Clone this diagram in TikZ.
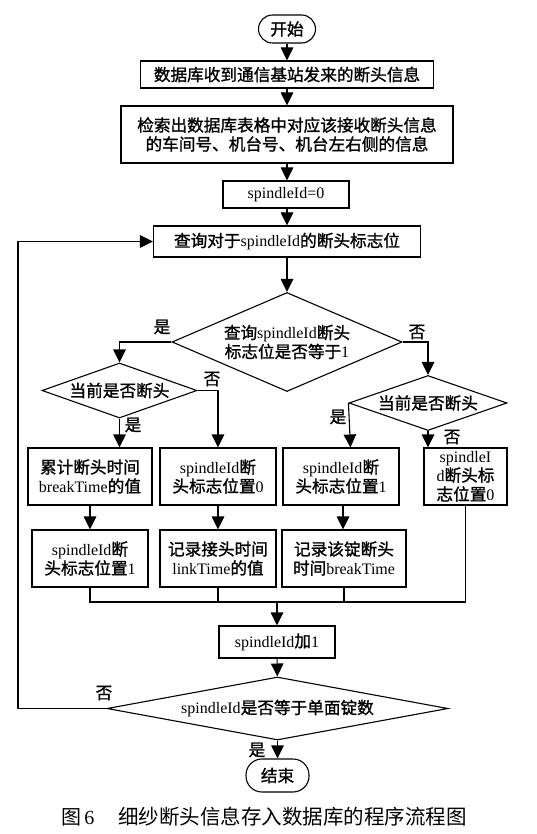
\documentclass[tikz,border=0pt]{standalone}
\usepackage{fontspec}
\setmainfont{Liberation Serif}
\newfontfamily\cjk{Noto Sans CJK SC}[Scale=1.04, FakeBold=1.2]
\newfontfamily\cjkcap{Noto Sans CJK SC}
\usetikzlibrary{arrows.meta,shapes.geometric}
\newcommand{\zhtext}[1]{{\cjk #1}}
\begin{document}
\begin{tikzpicture}[x=1pt,y=-1pt,
  line width=1.1pt,
  every node/.style={font=\fontsize{16}{19}\selectfont, align=center, inner sep=0pt},
  procbox/.style={draw, rectangle, line width=1.1pt},
  termbox/.style={draw, rectangle, rounded corners=14pt, line width=1.1pt},
  decbox/.style={draw, diamond, line width=1.1pt},
  lab/.style={font=\fontsize{16}{19}\selectfont},
  arr/.style={-{Triangle[length=13pt,width=12.5pt]}}
]
\path[use as bounding box, fill=white] (0,0) rectangle (537,834);

\node[termbox, minimum width=57pt, minimum height=28pt] (start) at (287,29) {\zhtext{开始}};
\node[procbox, minimum width=293pt, minimum height=27pt] (b1) at (287,74.5) {\zhtext{数据库收到通信基站发来的断头信息}};
\node[procbox, minimum width=332pt, minimum height=57pt] (b2) at (287,134.5) {\zhtext{检索出数据库表格中对应该接收断头信息}\\\zhtext{的车间号、机台号、机台左右侧的信息}};
\node[procbox, minimum width=126pt, minimum height=27pt] (b3) at (286,194.5) {spindleId=0};
\node[procbox, minimum width=267pt, minimum height=31pt] (b4) at (287,241.5) {\zhtext{查询对于}spindleId\zhtext{的断头标志位}};

\node[decbox, aspect=2.3, minimum width=230pt, minimum height=99pt] (d1) at (287,342) {\zhtext{查询}spindleId\zhtext{断头}\\\zhtext{标志位是否等于}1};
\node[decbox, aspect=2.8, minimum width=155pt, minimum height=55pt] (d2) at (119.5,390.5) {\zhtext{当前是否断头}};
\node[decbox, aspect=2.8, minimum width=158pt, minimum height=55pt] (d3) at (428,403) {\zhtext{当前是否断头}};

\node[procbox, minimum width=124pt, minimum height=57pt] (p1) at (90,476.5) {\zhtext{累计断头时间}\\breakTime\zhtext{的值}};
\node[procbox, minimum width=116pt, minimum height=57pt] (p2) at (218,476.5) {spindleId\zhtext{断}\\\zhtext{头标志位置}0};
\node[procbox, minimum width=116pt, minimum height=57pt] (p3) at (341,476.5) {spindleId\zhtext{断}\\\zhtext{头标志位置}1};
\node[procbox, minimum width=83pt, minimum height=57pt] (p4) at (465.5,476.5) {spindleI\\d\zhtext{断头标}\\\zhtext{志位置}0};

\node[procbox, minimum width=116pt, minimum height=57pt] (q1) at (90,558.5) {spindleId\zhtext{断}\\\zhtext{头标志位置}1};
\node[procbox, minimum width=116pt, minimum height=57pt] (q2) at (218,558.5) {\zhtext{记录接头时间}\\linkTime\zhtext{的值}};
\node[procbox, minimum width=124pt, minimum height=57pt] (q3) at (344,558.5) {\zhtext{记录该锭断头}\\\zhtext{时间}breakTime};

\node[procbox, minimum width=116pt, minimum height=32pt] (b5) at (277,642) {spindleId\zhtext{加}1};
\node[decbox, aspect=5.4, minimum width=341pt, minimum height=63pt] (d4) at (277.5,708.5) {spindleId\zhtext{是否等于单面锭数}};
\node[termbox, rounded corners=16pt, minimum width=63pt, minimum height=33pt] (end) at (277.5,775.5) {\zhtext{结束}};

\node[font=\fontsize{20}{24}\selectfont] (cap) at (264,817) {{\cjkcap\fontsize{20}{24}\selectfont 图}\,6\hspace{24pt}{\cjkcap\fontsize{20.5}{24}\selectfont 细纱断头信息存入数据库的程序流程图}};

\coordinate (m) at (277,602);
\coordinate (lp) at (18,708.5);

\draw[arr] (start) -- (b1);
\draw[arr] (b1) -- (b2);
\draw[arr] (b2.south) -- (b2.south |- b3.north);
\draw[arr] (b3.south -| b4.north) -- (b4.north);
\draw[arr] (b4) -- (d1);
\draw[arr] (d1.west) -| (d2.north);
\draw[arr] (d1.east) -| (d3.north);
\draw[arr] (d2.south) -- (d2.south |- p1.north);
\draw[arr] (d2.east) -| (p2.north);
\draw[arr] (d3.west) -- ([xshift=2pt]d3.west |- p3.north);
\draw[arr] (d3.south) -- (d3.south |- p4.north);
\draw[arr] (p1) -- (q1);
\draw[arr] (p2) -- (q2);
\draw[arr] ([xshift=2pt]p3.south) -- ([xshift=2pt]p3.south |- q3.north);
\draw (q1.south) -- (q1.south |- m) -- (p4.south |- m) -- (p4.south);
\draw (q2.south) -- (q2.south |- m);
\draw (q3.south) -- (q3.south |- m);
\draw[arr] (m) -- (b5.north);
\draw[arr] (b5) -- (d4);
\draw[arr] (d4.west) -- (lp) |- (b4.west);
\draw[arr] (d4.south) -- (end);

\node[lab] (l1) at (162,327) {\zhtext{是}};
\node[lab] (l2) at (417,332) {\zhtext{否}};
\node[lab] (l3) at (212,379) {\zhtext{否}};
\node[lab] (l4) at (133,425) {\zhtext{是}};
\node[lab] (l5) at (338,417) {\zhtext{是}};
\node[lab] (l6) at (452,437) {\zhtext{否}};
\node[lab] (l7) at (104,693) {\zhtext{否}};
\node[lab] (l8) at (257,750) {\zhtext{是}};
\end{tikzpicture}
\end{document}
